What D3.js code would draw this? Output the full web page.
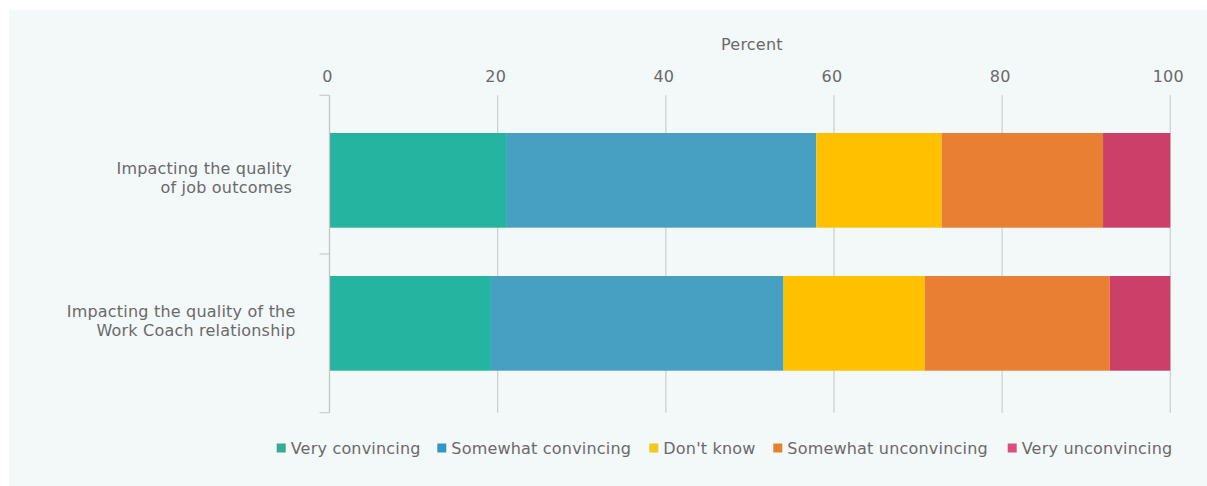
<!DOCTYPE html>
<html>
<head>
<meta charset="utf-8">
<script src="https://cdn.jsdelivr.net/npm/d3@7"></script>
<style>
  html, body { margin: 0; padding: 0; background: #ffffff; }
  svg { display: block; }
  text { font-family: "DejaVu Sans", "Open Sans", sans-serif; fill: #6a6a6a; letter-spacing: 0.2px; }
</style>
</head>
<body>
<svg id="chart" width="1207" height="486"></svg>
<script>
// Survey responses, percent of respondents
const categories = [
  ["Impacting the quality", "of job outcomes"],
  ["Impacting the quality of the", "Work Coach relationship"]
];
const seriesNames = ["Very convincing", "Somewhat convincing", "Don't know", "Somewhat unconvincing", "Very unconvincing"];
const veryConvincing = [21.1, 19.2];
const somewhatConvincing = [36.8, 34.8];
const dontKnow = [14.9, 16.8];
const somewhatUnconvincing = [19.2, 22.0];
const veryUnconvincing = [8.0, 7.2];
const xTicks = [0, 20, 40, 60, 80, 100];

const barColors = ["#25b49f", "#47a0c2", "#ffc000", "#e87f33", "#cc3f68"];
const legendColors = ["#34ad92", "#3297c9", "#f3c71f", "#e8812f", "#db4f7d"];

const seriesValues = [veryConvincing, somewhatConvincing, dontKnow, somewhatUnconvincing, veryUnconvincing];
const keys = categories.map((c, i) => i);
const rows = keys.map(i => {
  const r = { idx: i };
  seriesNames.forEach((s, j) => { r[s] = seriesValues[j][i]; });
  return r;
});
const stacked = d3.stack().keys(seriesNames)(rows);

const svg = d3.select("#chart");
const fontSize = "16px";

// panel background
svg.append("rect").attr("x", 9).attr("y", 10).attr("width", 1198).attr("height", 476).attr("fill", "#f3f8f8");

const x = d3.scaleLinear().domain([0, 100]).range([329.5, 1170.3]);
const yCat = d3.scaleBand().domain(keys).range([95.3, 412.7]).padding(0);
const yBar = d3.scaleBand().domain(keys).range([133, 370.7]).paddingInner(0.338).paddingOuter(0);

// vertical gridlines
svg.append("g").selectAll("line").data(xTicks.slice(1)).join("line")
  .attr("x1", d => x(d)).attr("x2", d => x(d))
  .attr("y1", yCat.range()[0]).attr("y2", yCat.range()[1])
  .attr("stroke", "#d0d0d0").attr("stroke-width", 1.3);

// x tick labels on top
svg.append("g").selectAll("text").data(xTicks).join("text")
  .attr("x", d => x(d) - 2).attr("y", 76)
  .attr("text-anchor", "middle").attr("dominant-baseline", "central")
  .style("font-size", fontSize)
  .text(d => d);

svg.append("text")
  .attr("x", (x(0) + x(100)) / 2 + 2).attr("y", 44)
  .attr("text-anchor", "middle").attr("dominant-baseline", "central")
  .style("font-size", fontSize)
  .text("Percent");

// bars
svg.append("g").selectAll("g").data(stacked).join("g")
  .attr("fill", (d, i) => barColors[i])
  .selectAll("rect").data(d => d).join("rect")
  .attr("x", d => x(d[0]))
  .attr("width", d => x(d[1]) - x(d[0]))
  .attr("y", d => yBar(d.data.idx))
  .attr("height", yBar.bandwidth());

// category axis with ticks at band boundaries
const axisG = svg.append("g");
const boundaries = [yCat.range()[0], ...keys.map(k => yCat(k) + yCat.bandwidth())];
axisG.append("line")
  .attr("x1", x(0)).attr("x2", x(0))
  .attr("y1", yCat.range()[0]).attr("y2", yCat.range()[1])
  .attr("stroke", "#c4c4c4").attr("stroke-width", 1.3);
axisG.selectAll("line.tick").data(boundaries).join("line").attr("class", "tick")
  .attr("x1", x(0) - 10).attr("x2", x(0))
  .attr("y1", d => d).attr("y2", d => d)
  .attr("stroke", "#c4c4c4").attr("stroke-width", 1);

// category labels, one text element per line
const labelRight = [292, 295.5];
const labelLines = [];
categories.forEach((lines, i) => {
  const cy = yBar(i) + yBar.bandwidth() / 2 - 2;
  lines.forEach((t, j) => labelLines.push({ t, x: labelRight[i], y: cy + (j - (lines.length - 1) / 2) * 19 }));
});
svg.append("g").selectAll("text").data(labelLines).join("text")
  .attr("text-anchor", "end")
  .attr("x", d => d.x).attr("y", d => d.y)
  .attr("dominant-baseline", "central")
  .style("font-size", fontSize)
  .text(d => d.t);

// legend
const legendX = [276.7, 437.3, 649.3, 773.3, 1007.7];
const lg = svg.append("g").selectAll("g").data(seriesNames).join("g")
  .attr("transform", (d, i) => `translate(${legendX[i]},448)`);
lg.append("rect").attr("x", 0).attr("y", -4.5).attr("width", 9).attr("height", 9)
  .attr("fill", (d, i) => legendColors[i]);
lg.append("text").attr("x", 14).attr("y", 0)
  .attr("dominant-baseline", "central")
  .style("font-size", fontSize)
  .text(d => d);
</script>
</body>
</html>
